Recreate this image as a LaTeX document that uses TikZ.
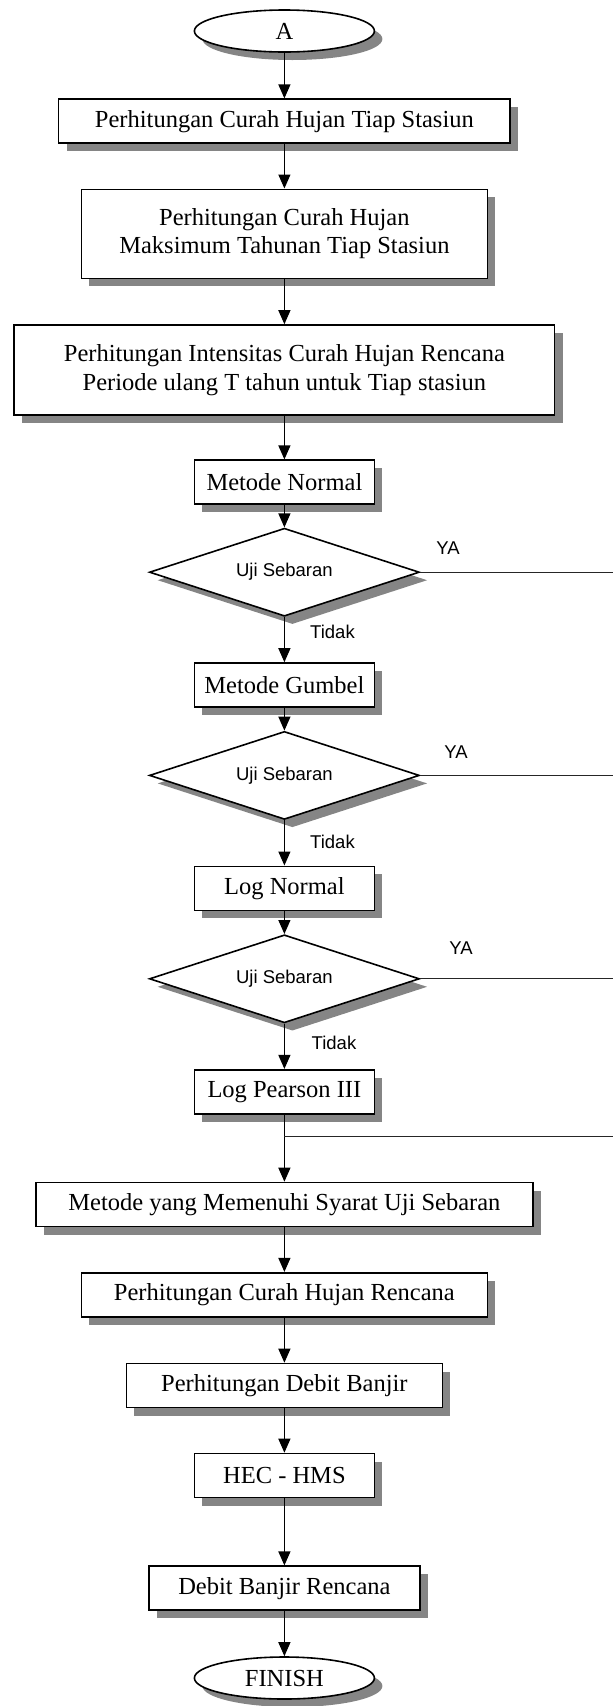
\documentclass[tikz,border=0pt]{standalone}
\usepackage{fontspec}
\setmainfont{Liberation Serif}
\newfontfamily\arialf{Liberation Sans}
\usetikzlibrary{shapes.geometric,arrows.meta,shadows}
\definecolor{shgray}{HTML}{858585}
\begin{document}
\begin{tikzpicture}[x=1pt,y=-1pt,
  shd/.style={general shadow={fill=shgray, draw=none, shadow xshift=8pt, shadow yshift=-8pt}},
  box/.style={draw, line width=1.6pt, fill=white, minimum height=44pt, inner sep=0pt,
    align=center, font=\fontsize{24.5}{28.3}\selectfont, shd},
  term/.style={ellipse, draw, line width=1.6pt, fill=white, minimum width=180pt,
    minimum height=42pt, inner sep=0pt, font=\fontsize{24.5}{28.3}\selectfont, shd},
  dec/.style={diamond, aspect=3.07, draw, line width=1.6pt, fill=white, minimum width=270pt,
    minimum height=88pt, inner sep=0pt, font=\arialf\fontsize{18.5}{20}\selectfont, shd},
  lbl/.style={inner sep=0pt, font=\arialf\fontsize{18.5}{20}\selectfont},
  arr/.style={-{Triangle[length=14pt,width=12pt]}, line width=1.2pt},
  yaline/.style={line width=0.9pt, black!85}]
\useasboundingbox (0,0) rectangle (613,1706);
\def\cx{284.4}
\coordinate (re) at (613,0);
\node[term] (a) at (\cx,31) {A};
\node[box, minimum width=451.6pt] (r1) at (\cx,121.2) {Perhitungan Curah Hujan Tiap Stasiun};
\node[box, minimum width=406pt, minimum height=89pt] (r2) at (\cx,233.8) {Perhitungan Curah Hujan\\Maksimum Tahunan Tiap Stasiun};
\node[box, minimum width=540.5pt, minimum height=90pt] (r3) at (\cx,370) {Perhitungan Intensitas Curah Hujan Rencana\\Periode ulang T tahun untuk Tiap stasiun};
\node[box, minimum width=180pt] (mn) at (\cx,482.2) {Metode Normal};
\node[dec] (d1) at (\cx,572.2) {Uji Sebaran};
\node[box, minimum width=180pt] (mg) at (\cx,685) {Metode Gumbel};
\node[dec] (d2) at (\cx,775.4) {Uji Sebaran};
\node[box, minimum width=180pt] (ln) at (\cx,888.3) {Log Normal};
\node[dec] (d3) at (\cx,978.8) {Uji Sebaran};
\node[box, minimum width=180pt] (lp) at (\cx,1091.7) {Log Pearson III};
\coordinate (j) at (\cx,1136.7);
\node[box, minimum width=497pt] (mym) at (\cx,1204.5) {Metode yang Memenuhi Syarat Uji Sebaran};
\node[box, minimum width=406pt] (pchr) at (\cx,1294.7) {Perhitungan Curah Hujan Rencana};
\node[box, minimum width=316pt] (pdb) at (\cx,1385.5) {Perhitungan Debit Banjir};
\node[box, minimum width=180pt] (hec) at (\cx,1475.5) {HEC - HMS};
\node[box, minimum width=271pt] (dbr) at (\cx,1588.2) {Debit Banjir Rencana};
\node[term] (fin) at (\cx,1678) {FINISH};
\node[lbl] (ya1) at (448,548) {YA};
\node[lbl] (ya2) at (456,752) {YA};
\node[lbl] (ya3) at (461,948) {YA};
\node[lbl] (t1) at (332.5,632) {Tidak};
\node[lbl] (t2) at (332.5,842) {Tidak};
\node[lbl] (t3) at (334,1043) {Tidak};
\draw[arr] (a) -- (r1);
\draw[arr] (r1) -- (r2);
\draw[arr] (r2) -- (r3);
\draw[arr] (r3) -- (mn);
\draw[arr] (mn) -- (d1);
\draw[arr] (d1) -- (mg);
\draw[arr] (mg) -- (d2);
\draw[arr] (d2) -- (ln);
\draw[arr] (ln) -- (d3);
\draw[arr] (d3) -- (lp);
\draw[arr] (lp) -- (mym);
\draw[arr] (mym) -- (pchr);
\draw[arr] (pchr) -- (pdb);
\draw[arr] (pdb) -- (hec);
\draw[arr] (hec) -- (dbr);
\draw[arr] (dbr) -- (fin);
\draw[yaline] (d1.east) -- (d1.east -| re);
\draw[yaline] (d2.east) -- (d2.east -| re);
\draw[yaline] (d3.east) -- (d3.east -| re);
\draw[yaline] (j) -- (j -| re);
\end{tikzpicture}
\end{document}
